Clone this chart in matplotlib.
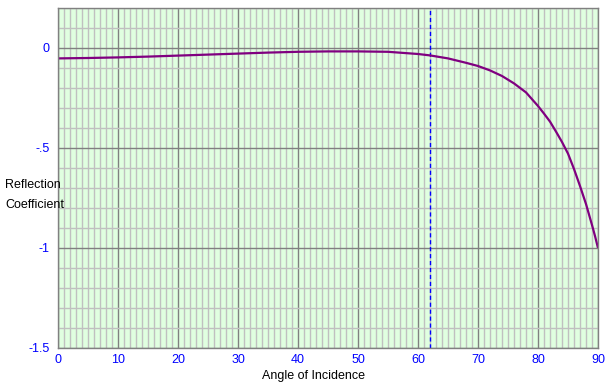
import matplotlib
matplotlib.use('Agg')
from matplotlib import pyplot as plt
from matplotlib.ticker import MultipleLocator, FixedLocator

# angle of incidence (degrees) vs reflection coefficient
angle = [0, 5, 10, 15, 20, 25, 30, 35, 40, 45, 50, 55, 60, 62, 65, 68, 70, 72,
         74, 76, 78, 80, 81, 82, 83, 84, 85, 86, 87, 88, 89, 89.5, 90]
refl = [-0.052, -0.050, -0.047, -0.043, -0.038, -0.033, -0.028, -0.023, -0.019,
        -0.017, -0.017, -0.019, -0.030, -0.037, -0.052, -0.074, -0.090, -0.112,
        -0.140, -0.177, -0.222, -0.290, -0.328, -0.368, -0.418, -0.470, -0.528,
        -0.605, -0.690, -0.780, -0.885, -0.94, -1.0]
critical_angle = 62
xticks = [0, 10, 20, 30, 40, 50, 60, 70, 80, 90]
yticks = [0, -0.5, -1, -1.5]
ytick_labels = ['0', '-.5', '-1', '-1.5']

plt.rcParams['font.family'] = ['Liberation Sans', 'DejaVu Sans']

fig = plt.figure(figsize=(6.08, 3.92), dpi=100)
ax = fig.add_axes([58/608, 1-348/392, 540/608, 340/392])
ax.set_facecolor('#e0ffe0')
ax.set_xlim(0, 90)
ax.set_ylim(-1.5, 0.2)

# grid
ax.xaxis.set_major_locator(MultipleLocator(10))
ax.xaxis.set_minor_locator(MultipleLocator(1))
ax.yaxis.set_major_locator(FixedLocator([-1.5, -1, -0.5, 0]))
ax.yaxis.set_minor_locator(MultipleLocator(0.1))
ax.grid(which='minor', color='#c0c0c0', lw=1)
ax.grid(which='major', color='#808080', lw=1)
ax.set_axisbelow(True)
ax.tick_params(which='both', length=0)

ax.set_xticks(xticks)
ax.set_xticklabels([str(t) for t in xticks], color='#0000ff', fontsize=9)
ax.set_yticks(yticks)
ax.set_yticklabels(ytick_labels, color='#0000ff', fontsize=9)
ax.tick_params(axis='x', pad=4)
ax.tick_params(axis='y', pad=6)

for s in ax.spines.values():
    s.set_color('#808080')
    s.set_linewidth(1)

ax.axvline(critical_angle, color='#0000ff', lw=1, ls=(0, (3, 2)))
ax.plot(angle, refl, color='#800080', lw=1.6, solid_capstyle='butt')

fig.text(313/608, 1-376/392, 'Angle of Incidence', ha='center', va='center', fontsize=9)
fig.text(5/608, 1-185/392, 'Reflection', ha='left', va='center', fontsize=9)
fig.text(5/608, 1-205/392, 'Coefficient', ha='left', va='center', fontsize=9)

plt.savefig('out.png', dpi=100)
plt.close()
